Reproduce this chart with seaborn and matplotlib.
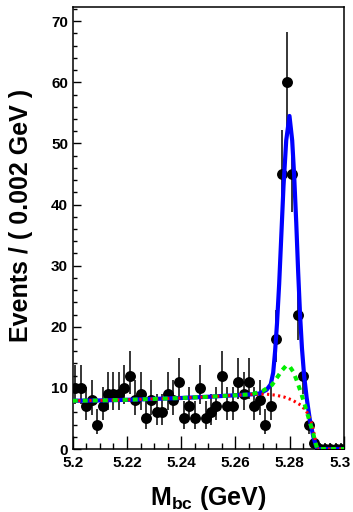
import numpy as np
import pandas as pd
import matplotlib
matplotlib.use("Agg")
import matplotlib.pyplot as plt
import matplotlib.transforms as mtransforms
import seaborn as sns
from matplotlib.ticker import MultipleLocator

# ---- data: Mbc histogram (bin width 0.002 GeV) ----
bin_centers = [5.201, 5.203, 5.205, 5.207, 5.209, 5.211, 5.213, 5.215, 5.217, 5.219,
               5.221, 5.223, 5.225, 5.227, 5.229, 5.231, 5.233, 5.235, 5.237, 5.239,
               5.241, 5.243, 5.245, 5.247, 5.249, 5.251, 5.253, 5.255, 5.257, 5.259,
               5.261, 5.263, 5.265, 5.267, 5.269, 5.271, 5.273, 5.275, 5.277, 5.279,
               5.281, 5.283, 5.285, 5.287, 5.289, 5.291, 5.293, 5.295, 5.297, 5.299]
counts = [10, 10, 7, 8, 4, 7, 9, 9, 9, 10,
          12, 8, 9, 5, 8, 6, 6, 9, 8, 11,
          5, 7, 5, 10, 5, 6, 7, 12, 7, 7,
          11, 9, 11, 7, 8, 4, 7, 18, 45, 60,
          45, 22, 12, 4, 1, 0, 0, 0, 0, 0]

# ---- fitted curves ----
bkg_x = [5.200, 5.210, 5.220, 5.230, 5.240, 5.250, 5.260, 5.266, 5.271, 5.275,
         5.278, 5.281, 5.284, 5.286, 5.2875, 5.2885, 5.2892, 5.2897, 5.2902, 5.300]
bkg_y = [7.9, 7.95, 8.05, 8.2, 8.35, 8.55, 8.8, 8.95, 9.0, 8.8,
         8.5, 8.0, 7.2, 6.3, 5.0, 3.5, 2.0, 0.8, 0.0, 0.0]

peakbkg_x = [5.200, 5.210, 5.220, 5.230, 5.240, 5.250, 5.260, 5.266, 5.270, 5.2735,
             5.2755, 5.2772, 5.2786, 5.2800, 5.2812, 5.2826, 5.2840, 5.2855, 5.2870,
             5.2885, 5.2895, 5.2902, 5.300]
peakbkg_y = [7.9, 7.95, 8.05, 8.2, 8.35, 8.55, 8.8, 8.95, 9.5, 10.5,
             11.8, 12.9, 13.6, 13.5, 12.7, 11.2, 9.4, 7.3, 5.0,
             2.8, 1.0, 0.0, 0.0]

total_x = [5.200, 5.210, 5.220, 5.230, 5.240, 5.250, 5.260, 5.266, 5.2690, 5.2715,
           5.2730, 5.2739, 5.2746, 5.2753, 5.2761, 5.2768, 5.2777, 5.2787, 5.2799,
           5.2809, 5.2816, 5.2824, 5.2831, 5.2838, 5.2845, 5.2853, 5.2862, 5.2874,
           5.2887, 5.2897, 5.2902, 5.300]
total_y = [7.9, 7.95, 8.05, 8.2, 8.35, 8.55, 8.8, 8.95, 9.1, 9.7,
           10.6, 12.5, 16.0, 20.5, 27.0, 34.0, 43.0, 50.5, 54.5,
           50.5, 45.0, 37.0, 29.0, 22.0, 16.5, 12.0, 8.5, 4.8,
           2.0, 0.5, 0.0, 0.0]

x_ticks = [5.2, 5.22, 5.24, 5.26, 5.28, 5.3]
x_tick_labels = ["5.2", "5.22", "5.24", "5.26", "5.28", "5.3"]
y_ticks = [0, 10, 20, 30, 40, 50, 60, 70]

# ---- style ----
sns.set_theme(style="ticks")
plt.rcParams["font.family"] = ["Liberation Sans", "DejaVu Sans"]
plt.rcParams["font.weight"] = "bold"
plt.rcParams["axes.labelweight"] = "bold"
plt.rcParams["text.color"] = "black"
plt.rcParams["axes.labelcolor"] = "black"
plt.rcParams["xtick.color"] = "black"
plt.rcParams["ytick.color"] = "black"
plt.rcParams["mathtext.fontset"] = "custom"
plt.rcParams["mathtext.rm"] = "Liberation Sans:bold"
plt.rcParams["mathtext.bf"] = "Liberation Sans:bold"
plt.rcParams["mathtext.it"] = "Liberation Sans:bold"
plt.rcParams["lines.scale_dashes"] = False

fig = plt.figure(figsize=(3.53, 5.12), dpi=100)
ax = fig.add_axes([0.206, 0.123, 0.9745 - 0.206, 0.986 - 0.123])

df = pd.DataFrame({"mbc": bin_centers, "n": counts})
n = df["n"].to_numpy(dtype=float)
err_hi = np.sqrt(n + 0.25) + 0.5
err_lo = np.sqrt(n + 0.25) - 0.5

ax.errorbar(df["mbc"], df["n"], yerr=[err_lo, err_hi], fmt="none",
            ecolor="black", elinewidth=1.1, capsize=0, zorder=2)
sns.scatterplot(data=df, x="mbc", y="n", ax=ax, color="black", s=62,
                edgecolor="black", linewidth=0, zorder=3, legend=False)

sns.lineplot(x=total_x, y=total_y, ax=ax, color="#0000ff", lw=3.0,
             zorder=4, sort=False)
sns.lineplot(x=bkg_x, y=bkg_y, ax=ax, color="#ff0000", lw=2.2,
             zorder=5, sort=False)
ax.lines[-1].set_dashes((1.6, 2.4))
sns.lineplot(x=peakbkg_x, y=peakbkg_y, ax=ax, color="#00ee00", lw=2.9,
             zorder=6, sort=False)
ax.lines[-1].set_dashes((3.6, 3.6))

ax.set_xlim(5.2, 5.3)
ax.set_ylim(0, 72.3)
ax.set_xticks(x_ticks)
ax.set_xticklabels(x_tick_labels)
ax.set_yticks(y_ticks)
ax.xaxis.set_minor_locator(MultipleLocator(0.005))
ax.yaxis.set_minor_locator(MultipleLocator(2))

ax.tick_params(axis="x", which="major", direction="in", length=9.4, width=1.0,
               labelsize=11, pad=5, top=False, colors="black")
ax.tick_params(axis="x", which="minor", direction="in", length=4.6, width=1.0,
               top=False, colors="black")
ax.tick_params(axis="y", which="major", direction="in", length=5.8, width=1.0,
               labelsize=11, pad=3.4, right=False, colors="black")
ax.tick_params(axis="y", which="minor", direction="in", length=2.9, width=1.0,
               right=False, colors="black")
for lab in ax.get_xticklabels() + ax.get_yticklabels():
    lab.set_fontweight("bold")
    lab.set_color("black")
# nudge the last x tick label so it stays inside the canvas
last = ax.get_xticklabels()[-1]
last.set_transform(last.get_transform() +
                   mtransforms.ScaledTranslation(-2.5 / 72, 0, fig.dpi_scale_trans))

for sp in ax.spines.values():
    sp.set_visible(True)
    sp.set_color("black")
    sp.set_linewidth(1.1)

ax.set_xlabel(r"M$_{\mathrm{bc}}$ (GeV)", fontsize=18, fontweight="bold",
              labelpad=10, color="black")
ax.set_ylabel("Events / ( 0.002 GeV )", fontsize=18, fontweight="bold",
              labelpad=9, color="black")
ax.yaxis.set_label_coords(-0.146, 0.529)
ax.set_facecolor("white")
fig.patch.set_facecolor("white")

fig.savefig("out.png", dpi=100)
